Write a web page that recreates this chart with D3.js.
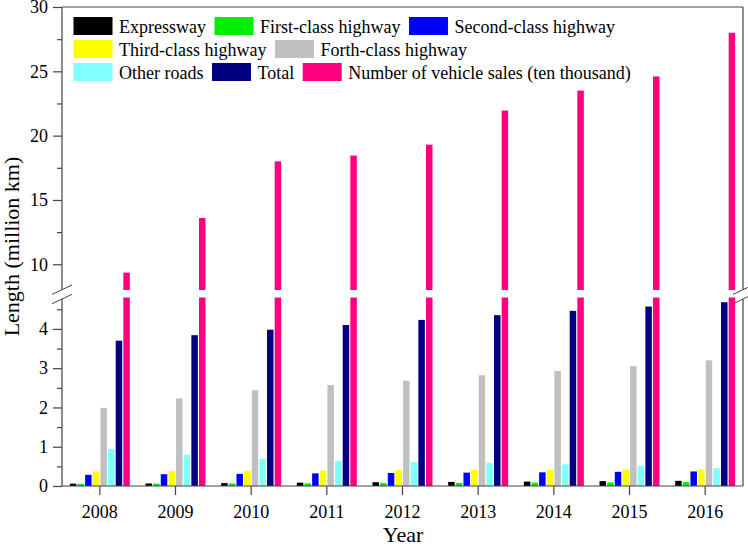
<!DOCTYPE html>
<html><head><meta charset="utf-8">
<script src="https://cdn.jsdelivr.net/npm/d3@7"></script>
<style>
html,body{margin:0;padding:0;background:#fff;}
svg{display:block;}
</style></head>
<body><svg id="c" width="748" height="544"></svg>
<script>
const years = ["2008","2009","2010","2011","2012","2013","2014","2015","2016"];
const seriesNames = ["Expressway","First-class highway","Second-class highway","Third-class highway","Forth-class highway","Other roads","Total","Number of vehicle sales (ten thousand)"];
const seriesColors = ["#000000","#00ee00","#0000ff","#ffff00","#c0c0c0","#80ffff","#000080","#ff0080"];
const expressway = [0.060,0.065,0.074,0.085,0.096,0.104,0.112,0.124,0.131];
const firstClass = [0.054,0.059,0.064,0.068,0.074,0.079,0.085,0.093,0.099];
const secondClass = [0.285,0.300,0.309,0.321,0.332,0.340,0.348,0.361,0.371];
const thirdClass = [0.374,0.380,0.388,0.394,0.402,0.407,0.414,0.419,0.417];
const fourthClass = [1.99,2.23,2.44,2.57,2.68,2.82,2.93,3.05,3.20];
const otherRoads = [0.94,0.80,0.69,0.64,0.61,0.59,0.55,0.51,0.45];
const total = [3.70,3.84,3.98,4.10,4.23,4.35,4.46,4.57,4.68];
const vehicleSales = [9.35,13.6,18.0,18.45,19.3,21.95,23.5,24.6,28.0];
const lowerTicks = [0,1,2,3,4];
const lowerMinor = [0.5,1.5,2.5,3.5,4.5];
const upperTicks = [10,15,20,25,30];
const upperMinor = [12.5,17.5,22.5,27.5];
const legendRows = [[0,1,2],[3,4],[5,6,7]];

const series = [expressway,firstClass,secondClass,thirdClass,fourthClass,otherRoads,total,vehicleSales];

const FONT = "Liberation Serif";
const svg = d3.select("#c");
const L=62, R=743, T=7, B=486;
const lowTop = 297.5, upBot = 290;
const lowMax = 4.8, upMin = 8;
const axisCol = "#444";

const x = d3.scaleBand().domain(years).range([L,R]);
const xi = d3.scaleBand().domain(d3.range(8)).range([-30,30]).paddingInner(0.15);
const yLow = d3.scaleLinear().domain([0,lowMax]).range([B,lowTop]);
const yUp = d3.scaleLinear().domain([upMin,30]).range([upBot,T]);

// bars
const g = svg.append("g");
series.forEach((vals,si)=>{
  vals.forEach((v,yi)=>{
    const bx = x(years[yi]) + x.bandwidth()/2 + xi(si);
    const w = xi.bandwidth();
    if (v <= lowMax) {
      g.append("rect").attr("x",bx).attr("width",w)
        .attr("y",yLow(v)).attr("height",yLow(0)-yLow(v)).attr("fill",seriesColors[si]);
    } else {
      g.append("rect").attr("x",bx).attr("width",w)
        .attr("y",yLow(lowMax)).attr("height",yLow(0)-yLow(lowMax)).attr("fill",seriesColors[si]);
      g.append("rect").attr("x",bx).attr("width",w)
        .attr("y",yUp(v)).attr("height",yUp(upMin)-yUp(v)).attr("fill",seriesColors[si]);
    }
  });
});

// axes frame lines with break marks
const s1 = 289.7, s2 = 299;
const frame = svg.append("g").attr("stroke",axisCol).attr("stroke-width",1.2).attr("fill","none");
[L,R].forEach(xx=>{
  frame.append("line").attr("x1",xx).attr("x2",xx).attr("y1",T).attr("y2",s1);
  frame.append("line").attr("x1",xx).attr("x2",xx).attr("y1",s2).attr("y2",B);
  [s1, s2].forEach(yy=>{
    frame.append("line").attr("x1",xx-10).attr("y1",yy+4.7).attr("x2",xx+10).attr("y2",yy-4.7).attr("stroke-width",1);
  });
});
frame.append("line").attr("x1",L).attr("x2",R).attr("y1",T).attr("y2",T);
frame.append("line").attr("x1",L).attr("x2",R).attr("y1",B).attr("y2",B);

function styleAxis(sel, labels){
  sel.attr("font-family",FONT).attr("font-size",18);
  sel.select(".domain").remove();
  sel.selectAll(".tick line").attr("stroke",axisCol).attr("stroke-width",1.2);
  sel.selectAll(".tick text").attr("fill","#000").attr("font-family",FONT).attr("font-size",18);
  if(!labels) sel.selectAll(".tick text").remove();
}

svg.append("g").attr("transform",`translate(${L},0)`)
  .call(d3.axisLeft(yLow).tickValues(lowerTicks).tickSize(9).tickPadding(5).tickFormat(d3.format("d")))
  .call(s=>styleAxis(s,true));
svg.append("g").attr("transform",`translate(${L},0)`)
  .call(d3.axisLeft(yLow).tickValues(lowerMinor).tickSize(5))
  .call(s=>styleAxis(s,false));
svg.append("g").attr("transform",`translate(${L},0)`)
  .call(d3.axisLeft(yUp).tickValues(upperTicks).tickSize(9).tickPadding(5).tickFormat(d3.format("d")))
  .call(s=>styleAxis(s,true));
svg.append("g").attr("transform",`translate(${L},0)`)
  .call(d3.axisLeft(yUp).tickValues(upperMinor).tickSize(5))
  .call(s=>styleAxis(s,false));

svg.append("g").attr("transform",`translate(0,${B})`)
  .call(d3.axisBottom(x).tickSize(9).tickPadding(10))
  .call(s=>styleAxis(s,true));

svg.append("text").attr("x",403).attr("y",542).attr("text-anchor","middle")
  .attr("font-family",FONT).attr("font-size",22).text("Year");
svg.append("text").attr("transform",`translate(18.5,${(T+B)/2}) rotate(-90)`)
  .attr("text-anchor","middle").attr("font-family",FONT).attr("font-size",22).text("Length (million km)");

const lg = svg.append("g");
legendRows.forEach((row,ri)=>{
  let cx = 73.5;
  const ry = 17 + ri*23;
  row.forEach(si=>{
    lg.append("rect").attr("x",cx).attr("y",ry).attr("width",39).attr("height",18).attr("fill",seriesColors[si]);
    const t = lg.append("text").attr("x",cx+45.5).attr("y",ry+16)
      .attr("font-family",FONT).attr("font-size",18).text(seriesNames[si]);
    cx = cx + 45.5 + t.node().getComputedTextLength() + 8.5;
  });
});
</script></body></html>
